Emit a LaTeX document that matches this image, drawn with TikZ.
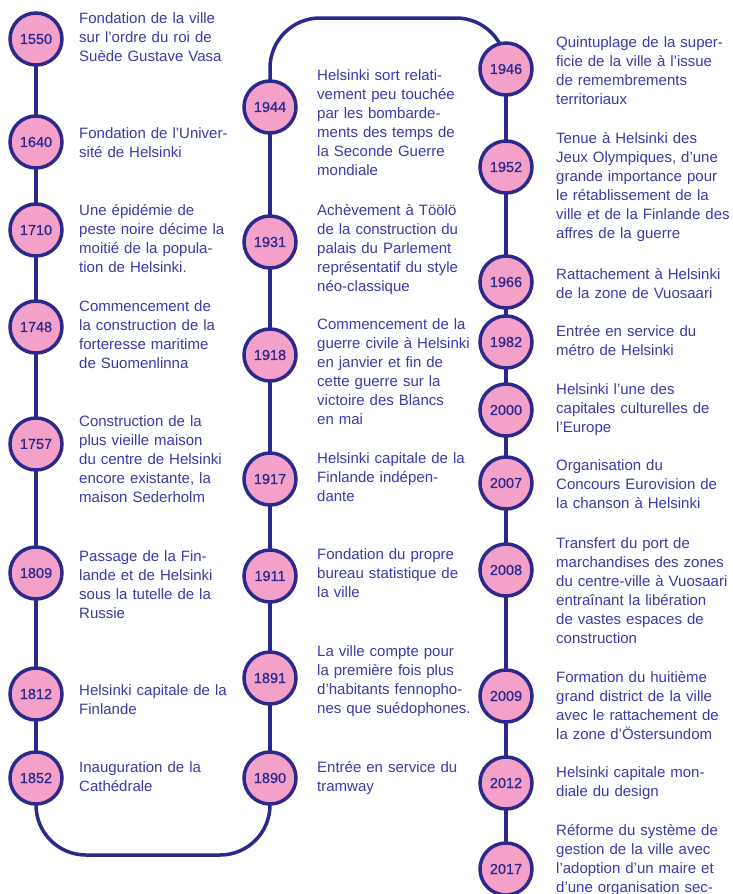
\documentclass[tikz,border=0pt]{standalone}
\usepackage{fontspec}
\setmainfont{Liberation Sans}
\newfontfamily\yrfont[FakeBold=0.6]{Liberation Sans}
\usetikzlibrary{backgrounds}
\definecolor{lineblue}{HTML}{2B2A8C}
\definecolor{txtblue}{HTML}{3A3AA8}
\definecolor{pinkfill}{HTML}{F3A1C9}
\begin{document}
\begin{tikzpicture}[x=1pt,y=-1pt,
  yr/.style={circle, draw=lineblue, fill=pinkfill, line width=3.5pt, minimum size=52pt, inner sep=0pt, text=lineblue, font=\yrfont\fontsize{14.5}{16}\selectfont},
  ev/.style={anchor=north west, inner sep=0pt, text width=200pt, align=left, text=txtblue, font=\fontsize{15}{19}\selectfont, execute at begin node=\rule{0pt}{14pt}},
  tl/.style={draw=lineblue, line width=3.5pt},
  corner/.style={tl, rounded corners=50pt}]
\useasboundingbox (0,0) rectangle (732,894);
% column 1
\node[yr] (c1550) at (36,39) {1550};
\node[yr] (c1640) at (36,142) {1640};
\node[yr] (c1710) at (36,230) {1710};
\node[yr] (c1748) at (36,327) {1748};
\node[yr] (c1757) at (36,444) {1757};
\node[yr] (c1809) at (36,573) {1809};
\node[yr] (c1812) at (36,694) {1812};
\node[yr] (c1852) at (36,778) {1852};
\node[ev] (t1550) at (79,9) {Fondation de la ville\\sur l’ordre du roi de\\Suède Gustave Vasa};
\node[ev] (t1640) at (79,124) {Fondation de l’Univer-\\sité de Helsinki};
\node[ev] (t1710) at (79,201) {Une épidémie de\\peste noire décime la\\moitié de la popula-\\tion de Helsinki.};
\node[ev] (t1748) at (79,297) {Commencement de\\la construction de la\\forteresse maritime\\de Suomenlinna};
\node[ev] (t1757) at (79,412) {Construction de la\\plus vieille maison\\du centre de Helsinki\\encore existante, la\\maison Sederholm};
\node[ev] (t1809) at (79,547) {Passage de la Fin-\\lande et de Helsinki\\sous la tutelle de la\\Russie};
\node[ev] (t1812) at (79,681) {Helsinki capitale de la\\Finlande};
\node[ev] (t1852) at (79,758) {Inauguration de la\\Cathédrale};
% column 2
\node[yr] (c1944) at (270,107) {1944};
\node[yr] (c1931) at (270,242) {1931};
\node[yr] (c1918) at (270,355) {1918};
\node[yr] (c1917) at (270,479) {1917};
\node[yr] (c1911) at (270,576) {1911};
\node[yr] (c1891) at (270,678) {1891};
\node[yr] (c1890) at (270,778) {1890};
\node[ev] (t1944) at (317,66) {Helsinki sort relati-\\vement peu touchée\\par les bombarde-\\ments des temps de\\la Seconde Guerre\\mondiale};
\node[ev] (t1931) at (317,201) {Achèvement à Töölö\\de la construction du\\palais du Parlement\\représentatif du style\\néo-classique};
\node[ev] (t1918) at (317,315) {Commencement de la\\guerre civile à Helsinki\\en janvier et fin de\\cette guerre sur la\\victoire des Blancs\\en mai};
\node[ev] (t1917) at (317,449) {Helsinki capitale de la\\Finlande indépen-\\dante};
\node[ev] (t1911) at (317,545) {Fondation du propre\\bureau statistique de\\la ville};
\node[ev] (t1891) at (317,642) {La ville compte pour\\la première fois plus\\d’habitants fennopho-\\nes que suédophones.};
\node[ev] (t1890) at (317,758) {Entrée en service du\\tramway};
% column 3
\node[yr] (c1946) at (506,69) {1946};
\node[yr] (c1952) at (506,167) {1952};
\node[yr] (c1966) at (506,282) {1966};
\node[yr] (c1982) at (506,342) {1982};
\node[yr] (c2000) at (506,410) {2000};
\node[yr] (c2007) at (506,483) {2007};
\node[yr] (c2008) at (506,570) {2008};
\node[yr] (c2009) at (506,696) {2009};
\node[yr] (c2012) at (506,783) {2012};
\node[yr] (c2017) at (506,869) {2017};
\node[ev] (t1946) at (556,33) {Quintuplage de la super-\\ficie de la ville à l’issue\\de remembrements\\territoriaux};
\node[ev] (t1952) at (556,129) {Tenue à Helsinki des\\Jeux Olympiques, d’une\\grande importance pour\\le rétablissement de la\\ville et de la Finlande des\\affres de la guerre};
\node[ev] (t1966) at (556,265) {Rattachement à Helsinki\\de la zone de Vuosaari};
\node[ev] (t1982) at (556,322) {Entrée en service du\\métro de Helsinki};
\node[ev] (t2000) at (556,380) {Helsinki l’une des\\capitales culturelles de\\l’Europe};
\node[ev] (t2007) at (556,456) {Organisation du\\Concours Eurovision de\\la chanson à Helsinki};
\node[ev] (t2008) at (556,534) {Transfert du port de\\marchandises des zones\\du centre-ville à Vuosaari\\entraînant la libération\\de vastes espaces de\\construction};
\node[ev] (t2009) at (556,668) {Formation du huitième\\grand district de la ville\\avec le rattachement de\\la zone d’Östersundom};
\node[ev] (t2012) at (556,763) {Helsinki capitale mon-\\diale du design};
\node[ev] (t2017) at (556,821) {Réforme du système de\\gestion de la ville avec\\l’adoption d’un maire et\\d’une organisation sec-};
% corners
\coordinate (bl) at (36,855);
\coordinate (br) at (270,855);
\coordinate (tl2) at (270,18);
\coordinate (tr) at (506,18);
\begin{scope}[on background layer]
\draw[tl] (c1550.center) -- (c1640.center) -- (c1710.center) -- (c1748.center) -- (c1757.center) -- (c1809.center) -- (c1812.center) -- (c1852.center);
\draw[corner] (c1852.center) -- (bl) -- (br) -- (c1890.center);
\draw[tl] (c1890.center) -- (c1891.center) -- (c1911.center) -- (c1917.center) -- (c1918.center) -- (c1931.center) -- (c1944.center);
\draw[corner] (c1944.center) -- (tl2) -- (tr) -- (c1946.center);
\draw[tl] (c1946.center) -- (c1952.center) -- (c1966.center) -- (c1982.center) -- (c2000.center) -- (c2007.center) -- (c2008.center) -- (c2009.center) -- (c2012.center) -- (c2017.center);
\end{scope}
\end{tikzpicture}
\end{document}
